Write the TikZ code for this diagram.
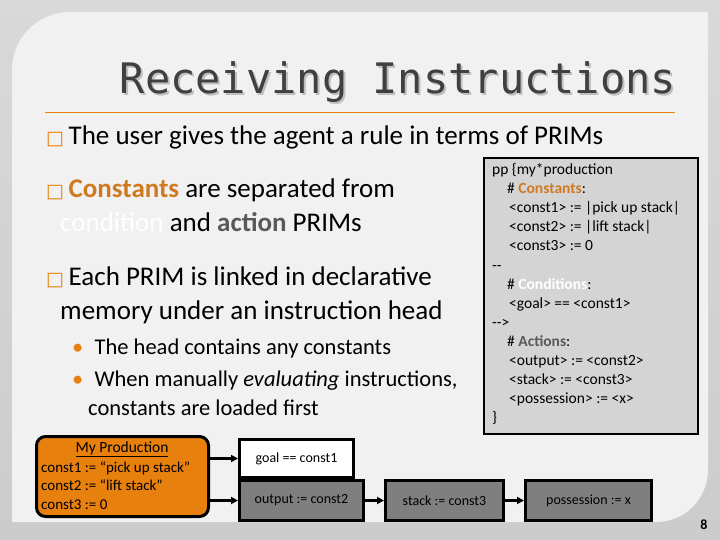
\documentclass[tikz,border=0pt]{standalone}
\usepackage{fontspec}
\setmainfont{Carlito}
\newfontfamily\titlefont{DejaVu Sans Mono}
\newfontfamily\symfont{DejaVu Sans}
\usetikzlibrary{arrows.meta,shadows}
\definecolor{orng}{HTML}{E8800E}
\definecolor{btext}{HTML}{D07A20}
\definecolor{panel}{HTML}{F1F1F1}
\definecolor{codebg}{HTML}{D4D4D4}
\definecolor{actgray}{HTML}{7F7F7F}
\newcommand{\sqb}{\textcolor{orng}{\symfont\fontsize{19}{20}\selectfont □}\,}
\begin{document}
\begin{tikzpicture}[x=1pt,y=-1pt,
  txt/.style={anchor=base west,inner sep=0pt,font=\fontsize{27}{30}\selectfont},
  subtxt/.style={anchor=base west,inner sep=0pt,font=\fontsize{22.5}{26}\selectfont},
  code/.style={anchor=base west,inner sep=0pt,font=\fontsize{15.5}{17}\selectfont},
  bx/.style={draw=black,line width=3pt,inner sep=0pt,font=\fontsize{14}{16}\selectfont},
  arr/.style={-{Triangle[length=7pt,width=7pt]},line width=3pt}]
\useasboundingbox (0,0) rectangle (720,540);
\shade[top color=gray!30,bottom color=gray!40] (0,0) rectangle (720,540);
\fill[panel] (70,12) -- (708,12) -- (708,470) arc[start angle=0,end angle=90,radius=52] -- (12,522) -- (12,70) arc[start angle=180,end angle=270,radius=58] -- cycle;
% title (with shadow inside one node)
\node[anchor=base,inner sep=0pt,font=\titlefont\fontsize{42}{44}\selectfont] (title) at (398,94) {\rlap{\kern2pt\raisebox{-2pt}{\textcolor{black!25}{Receiving Instructions}}}\textcolor{black!75}{Receiving Instructions}};
\draw[orng,line width=0.8pt] (45,112) -- (675,112);
% bullets
\node[txt] (b1) at (46,145) {\sqb The user gives the agent a rule in terms of PRIMs};
\node[txt] (b2) at (46,198) {\sqb\textcolor{btext}{\textbf{Constants}} are separated from};
\node[txt] (b2b) at (60,232) {\textcolor{white}{condition} and \textcolor{black!65}{\textbf{action}} PRIMs};
\node[txt] (b3) at (46,285) {\sqb Each PRIM is linked in declarative};
\node[txt] (b3b) at (60,319) {memory under an instruction head};
\node[subtxt] (s1) at (72,354) {\textcolor{orng}{•}\enspace The head contains any constants};
\node[subtxt] (s2) at (72,386) {\textcolor{orng}{•}\enspace When manually \textit{evaluating} instructions,};
\node[subtxt] (s3) at (88,415) {constants are loaded first};
% code box
\node[draw=black,line width=2.2pt,fill=codebg,minimum width=214pt,minimum height=276pt,anchor=north west,inner sep=0pt] (cb) at (483,157) {};
\node[code] (c1) at (492,175) {pp \{my*production};
\node[code] (c2) at (507,194) {\# \textcolor{btext}{\textbf{Constants}}:};
\node[code] (c3) at (509,213) {<const1> := |pick up stack|};
\node[code] (c4) at (509,232) {<const2> := |lift stack|};
\node[code] (c5) at (509,251) {<const3> := 0};
\node[code] (c6) at (492,270) {-{}-};
\node[code] (c7) at (507,289) {\# \textcolor{white}{\textbf{Conditions}}:};
\node[code] (c8) at (509,308) {<goal> == <const1>};
\node[code] (c9) at (492,327) {-{}->};
\node[code] (c10) at (507,346) {\# \textcolor{black!65}{\textbf{Actions}}:};
\node[code] (c11) at (509,365) {<output> := <const2>};
\node[code] (c12) at (509,384) {<stack> := <const3>};
\node[code] (c13) at (509,403) {<possession> := <x>};
\node[code] (c14) at (492,422) {\}};
% bottom diagram
\node[bx,fill=orng,rounded corners=9pt,minimum width=172pt,minimum height=80pt,anchor=north west] (prod) at (35,435) {};
\node[anchor=base,inner sep=0pt,font=\fontsize{15.5}{17}\selectfont] (pt) at (122,452) {\underline{My Production}};
\node[anchor=base west,inner sep=0pt,font=\fontsize{15}{17}\selectfont] (p1) at (41,472) {const1 := “pick up stack”};
\node[anchor=base west,inner sep=0pt,font=\fontsize{15}{17}\selectfont] (p2) at (41,490) {const2 := “lift stack”};
\node[anchor=base west,inner sep=0pt,font=\fontsize{15}{17}\selectfont] (p3) at (41,509) {const3 := 0};
\node[bx,fill=white,minimum width=114pt,minimum height=38pt,anchor=north west] (goal) at (238,438) {goal == const1};
\node[bx,fill=actgray,minimum width=124pt,minimum height=40pt,anchor=north west] (out) at (238,479) {output := const2};
\node[bx,fill=actgray,minimum width=118pt,minimum height=40pt,anchor=north west] (stk) at (384,479) {stack := const3};
\node[bx,fill=actgray,minimum width=126pt,minimum height=40pt,anchor=north west] (pos) at (524,479) {possession := x};
\draw[arr] (prod.east |- goal.west) -- (goal.west);
\draw[arr] (prod.east |- out.west) -- (out.west);
\draw[arr] (out) -- (stk);
\draw[arr] (stk) -- (pos);
\node[anchor=base,inner sep=0pt,font=\bfseries\fontsize{14}{16}\selectfont] (pg) at (704,529) {8};
\end{tikzpicture}
\end{document}
